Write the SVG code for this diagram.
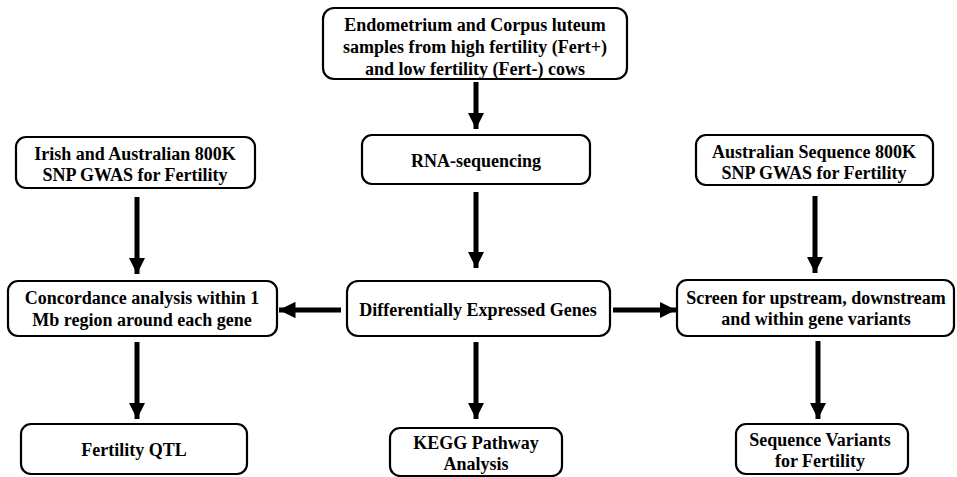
<svg xmlns="http://www.w3.org/2000/svg" width="957" height="477" viewBox="0 0 957 477">
<defs>
<style>
.box{fill:#fff;stroke:#000;stroke-width:2.2}
.t{font-family:"Liberation Serif","Times New Roman",serif;font-weight:bold;font-size:18px;fill:#000;text-anchor:middle;dominant-baseline:central}
.c{stroke:#000;stroke-width:5;fill:none}
</style>
<marker id="ah" viewBox="0 0 10 10" refX="10" refY="5" markerWidth="3.3" markerHeight="3.3" orient="auto" markerUnits="strokeWidth">
<path d="M0,0 L10,5 L0,10 Z" fill="#000"/>
</marker>
</defs>
<rect width="957" height="477" fill="#fff"/>
<g id="connectors">
<line class="c" x1="476" y1="82" x2="476" y2="129" marker-end="url(#ah)"/>
<line class="c" x1="476" y1="192" x2="476" y2="268" marker-end="url(#ah)"/>
<line class="c" x1="137" y1="197" x2="137" y2="274" marker-end="url(#ah)"/>
<line class="c" x1="815" y1="196" x2="815" y2="273" marker-end="url(#ah)"/>
<line class="c" x1="341" y1="310" x2="279" y2="310" marker-end="url(#ah)"/>
<line class="c" x1="613" y1="310" x2="676" y2="310" marker-end="url(#ah)"/>
<line class="c" x1="137" y1="342" x2="137" y2="419" marker-end="url(#ah)"/>
<line class="c" x1="476" y1="342" x2="476" y2="419" marker-end="url(#ah)"/>
<line class="c" x1="818" y1="341" x2="818" y2="419" marker-end="url(#ah)"/>
</g>
<g id="samples">
<rect class="box" x="323" y="8" width="304" height="71" rx="11"/>
<text class="t" x="475" y="25">Endometrium and Corpus luteum</text>
<text class="t" x="475" y="47">samples from high fertility (Fert+)</text>
<text class="t" x="475" y="69">and low fertility (Fert-) cows</text>
</g>
<g id="rnaseq">
<rect class="box" x="362" y="135" width="228" height="49" rx="10"/>
<text class="t" x="476" y="161">RNA-sequencing</text>
</g>
<g id="deg">
<rect class="box" x="347" y="281" width="263" height="55" rx="11"/>
<text class="t" x="478" y="310">Differentially Expressed Genes</text>
</g>
<g id="irishGwas">
<rect class="box" x="16" y="137" width="239" height="51" rx="10"/>
<text class="t" x="135" y="154">Irish and Australian 800K</text>
<text class="t" x="135" y="175">SNP GWAS  for Fertility</text>
</g>
<g id="concordance">
<rect class="box" x="8" y="281" width="269" height="55" rx="10"/>
<text class="t" x="142" y="298">Concordance analysis within 1</text>
<text class="t" x="142" y="320">Mb region around each gene</text>
</g>
<g id="ausGwas">
<rect class="box" x="696" y="135" width="237" height="50" rx="10"/>
<text class="t" x="814" y="152">Australian Sequence 800K</text>
<text class="t" x="814" y="173">SNP  GWAS  for Fertility</text>
</g>
<g id="screen">
<rect class="box" x="677" y="280" width="277" height="56" rx="10"/>
<text class="t" x="816" y="298">Screen for upstream, downstream</text>
<text class="t" x="816" y="319">and within gene variants</text>
</g>
<g id="qtl">
<rect class="box" x="21" y="424" width="226" height="50" rx="10"/>
<text class="t" x="134" y="450">Fertility QTL</text>
</g>
<g id="kegg">
<rect class="box" x="390" y="428" width="172" height="48" rx="10"/>
<text class="t" x="476" y="443">KEGG Pathway</text>
<text class="t" x="476" y="464">Analysis</text>
</g>
<g id="variants">
<rect class="box" x="736" y="424" width="172" height="50" rx="10"/>
<text class="t" x="820" y="440">Sequence Variants</text>
<text class="t" x="820" y="461">for Fertility</text>
</g>
</svg>
